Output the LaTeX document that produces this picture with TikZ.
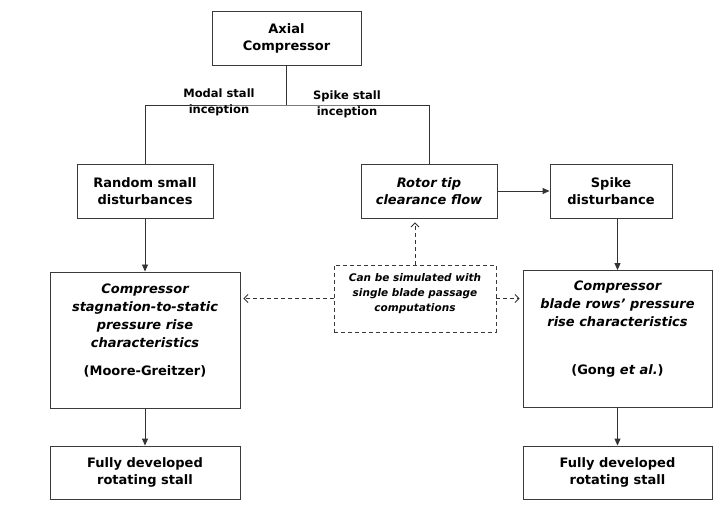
\documentclass[tikz,border=0pt]{standalone}
\usepackage{fontspec}
\setmainfont{DejaVu Sans}
\usetikzlibrary{arrows.meta}
\definecolor{linec}{HTML}{333333}
\definecolor{boxc}{HTML}{3A3A3A}
\begin{document}
\begin{tikzpicture}[x=1pt,y=-1pt,
  box/.style={draw=boxc, line width=0.9pt, fill=white, inner sep=0pt, align=center,
    font=\fontsize{13}{17}\selectfont\bfseries},
  itbox/.style={box, font=\fontsize{13}{17}\selectfont\bfseries\itshape},
  txt/.style={inner sep=0pt, align=center, font=\fontsize{13}{18}\selectfont\bfseries},
  ittxt/.style={txt, font=\fontsize{13}{18}\selectfont\bfseries\itshape},
  lbl/.style={inner sep=0pt, align=center, font=\fontsize{11.5}{16}\selectfont\bfseries},
  conn/.style={draw=linec, line width=0.9pt},
  arr/.style={conn, -{Triangle[length=7pt,width=6pt]}},
  darr/.style={conn, dash pattern=on 4pt off 3pt, -{Straight Barb[length=4pt,width=8pt]}}
]
\useasboundingbox (0,0) rectangle (720,510);
\fill[white] (0,0) rectangle (720,510);

% boxes
\node[box, minimum width=149pt, minimum height=54pt] (ax) at (286.5,38) {Axial\\Compressor};
\node[box, minimum width=136pt, minimum height=54pt] (rs) at (145,191) {Random small\\disturbances};
\node[itbox, minimum width=136pt, minimum height=54pt] (rt) at (429,191) {Rotor tip\\clearance flow};
\node[box, minimum width=122pt, minimum height=54pt] (sd) at (611,191) {Spike\\disturbance};
\node[box, minimum width=190pt, minimum height=136pt] (lb) at (145,340) {};
\node[box, minimum width=189pt, minimum height=137pt] (rb) at (617.5,339) {};
\node[box, minimum width=190pt, minimum height=53pt] (lf) at (145,472.5) {Fully developed\\rotating stall};
\node[box, minimum width=189pt, minimum height=53pt] (rf) at (617.5,472.5) {Fully developed\\rotating stall};
\node[draw=boxc, line width=0.9pt, dash pattern=on 4pt off 3pt, fill=white, minimum width=162pt, minimum height=67pt, inner sep=0pt] (db) at (415,298.5) {};

% texts inside big boxes
\node[ittxt] (lbt) at (145,316) {Compressor\\stagnation-to-static\\pressure rise\\characteristics};
\node[txt] (lbr) at (145,371) {(Moore-Greitzer)};
\node[ittxt] (rbt) at (617.5,304) {Compressor\\blade rows' pressure\\rise characteristics};
\node[txt] (rbr) at (617.5,371) {(Gong \textit{et al.})};
\node[inner sep=0pt, align=center, font=\fontsize{10.5}{15}\selectfont\bfseries\itshape] (dbt) at (415,293.5) {Can be simulated with\\single blade passage\\computations};

% labels
\node[lbl] (lm) at (219,102) {Modal stall\\inception};
\node[lbl] (ls) at (347,104.5) {Spike stall\\inception};

% tree connectors
\coordinate (j) at (286.5,105);
\draw[conn] (ax.south) -- (j);
\draw[conn] (rs.north) |- (j) -| (rt.north);

% arrows
\draw[arr] (rt.east) -- (sd.west);
\draw[arr] (rs.south) -- (lb.north);
\draw[arr] (sd.south -| rb.north) -- (rb.north);
\draw[arr] (lb.south) -- (lf.north);
\draw[arr] (rb.south) -- (rf.north);

% dashed arrows
\draw[darr, shorten >=4pt] (db.north) -- (db.north |- rt.south);
\draw[darr, shorten >=3pt] (db.west) -- (db.west -| lb.east);
\draw[darr, shorten >=3pt] (db.east) -- (db.east -| rb.west);
\end{tikzpicture}
\end{document}
